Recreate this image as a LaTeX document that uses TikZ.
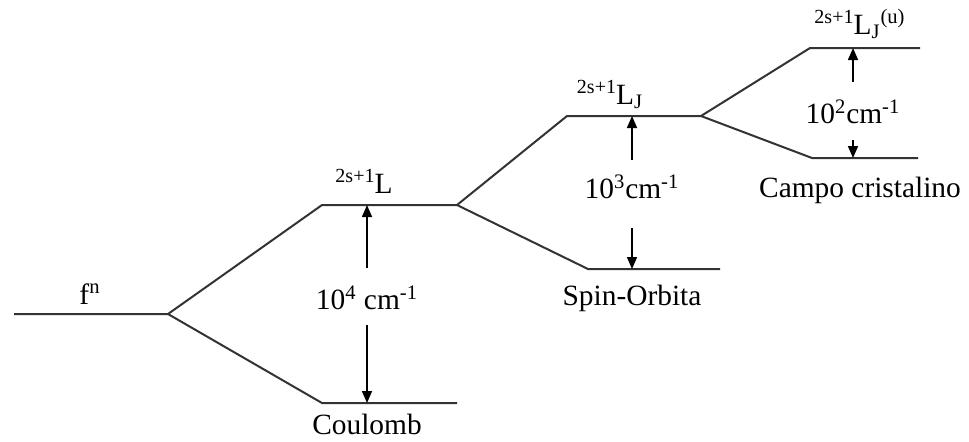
\documentclass[tikz,border=0pt]{standalone}
\usepackage{fontspec}
\setmainfont{Liberation Serif}
\usetikzlibrary{arrows.meta}
\newcommand{\mult}{\raisebox{0.75ex}{\fontsize{10}{12}\selectfont 2s+1}}
\begin{document}
\begin{tikzpicture}[x=0.5pt,y=-0.5pt,
  level/.style={line width=1pt, draw=black!80},
  gap/.style={line width=0.8pt, -{Triangle[length=6pt,width=5pt]}},
  lbl/.style={font=\fontsize{14.7}{17}\selectfont, inner sep=0pt},
  sup/.style={font=\fontsize{14.7}{17}\selectfont, inner sep=0pt, anchor=base}]
\useasboundingbox (0,0) rectangle (969,441);
% level coordinates
\coordinate (f0) at (14,314);
\coordinate (f1) at (168,314);
\coordinate (cu0) at (322,205);
\coordinate (cu1) at (457,205);
\coordinate (cl0) at (322,403);
\coordinate (cl1) at (457,403);
\coordinate (su0) at (567,116);
\coordinate (su1) at (701,116);
\coordinate (sl0) at (588,269);
\coordinate (sl1) at (720,269);
\coordinate (ku0) at (810,48);
\coordinate (ku1) at (920,48);
\coordinate (kl0) at (812,158);
\coordinate (kl1) at (918,158);
% levels
\draw[level] (f0) -- (f1) -- (cu0) -- (cu1) -- (su0) -- (su1) -- (ku0) -- (ku1);
\draw[level] (f1) -- (cl0) -- (cl1);
\draw[level] (cu1) -- (sl0) -- (sl1);
\draw[level] (su1) -- (kl0) -- (kl1);
% labels
\node[sup] (fn) at (90,304) {f\textsuperscript{n}};
\node[sup] (lL) at (364,193) {\mult L};
\node[sup] (lLJ) at (610,104) {\mult L$_{\mathrm{J}}$};
\node[sup] (lLJu) at (860,34) {\mult L$_{\mathrm{J}}$\textsuperscript{(u)}};
\node[lbl] (e4) at (367,298) {10\textsuperscript{4} cm\textsuperscript{-1}};
\node[lbl] (e3) at (632,187) {10\textsuperscript{3}cm\textsuperscript{-1}};
\node[lbl] (e2) at (853,112) {10\textsuperscript{2}cm\textsuperscript{-1}};
\node[lbl] (coul) at (367,424) {Coulomb};
\node[lbl] (so) at (632,298) {Spin-Orbita};
\node[lbl] (cc) at (860,190) {Campo cristalino};
% arrow start points
\coordinate (a4u) at (367,268);
\coordinate (a4d) at (367,325);
\coordinate (a3u) at (632,160);
\coordinate (a3d) at (632,228);
\coordinate (a2u) at (853,82);
\coordinate (a2d) at (853,140);
\coordinate (t4u) at (367,205);
\coordinate (t4d) at (367,403);
\coordinate (t3u) at (632,116);
\coordinate (t3d) at (632,269);
\coordinate (t2u) at (853,48);
\coordinate (t2d) at (853,158);
\draw[gap] (a4u) -- (t4u);
\draw[gap] (a4d) -- (t4d);
\draw[gap] (a3u) -- (t3u);
\draw[gap] (a3d) -- (t3d);
\draw[gap] (a2u) -- (t2u);
\draw[gap] (a2d) -- (t2d);
\end{tikzpicture}
\end{document}
